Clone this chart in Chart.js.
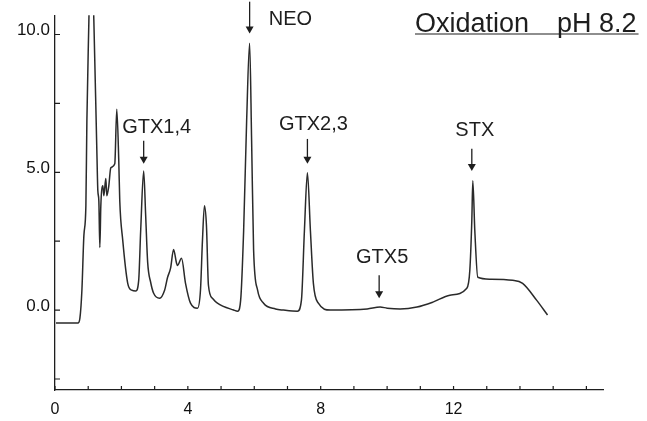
<!DOCTYPE html>
<html>
<head>
<meta charset="utf-8">
<script src="https://cdn.jsdelivr.net/npm/chart.js@4/dist/chart.umd.min.js"></script>
<style>
  html, body { margin: 0; padding: 0; background: #fff; }
  #wrap { width: 647px; height: 421px; position: relative; }
</style>
</head>
<body>
<div id="wrap"><canvas id="chrom"></canvas></div>
<script>
  // retention time (min) and detector signal of the trace
  const retTime = [
    0.03, 0.69, 0.75, 0.81, 0.87, 0.93, 0.96, 1.02, 1.08, 1.17,
    1.26, 1.29, 1.32, 1.35, 1.38, 1.44, 1.47, 1.53, 1.56, 1.62,
    1.68, 1.80, 1.86, 1.92, 1.95, 2.04, 2.19, 2.31, 2.43, 2.52,
    2.58, 2.67, 2.73, 2.79, 2.88, 2.97, 3.15, 3.30, 3.39, 3.48,
    3.57, 3.66, 3.69, 3.81, 3.93, 4.08, 4.29, 4.38, 4.44, 4.50,
    4.56, 4.62, 4.74, 4.89, 5.38, 5.50, 5.59, 5.68, 5.77, 5.86,
    5.92, 5.98, 6.10, 6.28, 6.64, 6.88, 7.30, 7.42, 7.51, 7.60,
    7.69, 7.78, 7.93, 8.29, 9.40, 9.79, 10.0, 10.39, 10.90, 11.38,
    11.89, 12.40, 12.49, 12.55, 12.58, 12.64, 12.73, 13.09, 13.78, 14.08,
    14.50, 14.83,
  ];
  const signal = [
    -0.47, -0.47, -0.29, 0.72, 2.71, 3.79, 6.86, 10.5, 14, 10.5,
    5.78, 4.33, 3.97, 2.27, 3.79, 4.51, 4.15, 4.77, 4.15, 4.51,
    5.16, 5.31, 7.29, 5.42, 3.97, 2.53, 0.97, 0.72, 0.69, 1.08,
    2.89, 5.05, 3.43, 1.73, 1.01, 0.61, 0.43, 0.72, 1.19, 1.52,
    2.20, 1.70, 1.62, 1.88, 0.97, 0.25, 0.07, 0.72, 2.53, 3.79,
    3.07, 0.90, 0.43, 0.25, 0.0, -0.04, 0.36, 2.89, 6.86, 9.68,
    6.14, 2.17, 0.72, 0.25, 0.04, 0.0, -0.04, 0.36, 2.89, 4.98,
    2.89, 0.97, 0.25, 0.0, 0.04, 0.11, 0.07, 0.04, 0.11, 0.29,
    0.54, 0.79, 1.44, 3.25, 4.69, 2.89, 1.19, 1.12, 1.08, 0.97,
    0.36, -0.18,
  ];

  // axis ticks
  const xTicks = [0, 1, 2, 3, 4, 5, 6, 7, 8, 9, 10, 11, 12, 13, 14, 15, 16];
  const xLabelled = [0, 4, 8, 12];
  const yTicks = [-2.5, 0, 2.5, 5, 7.5, 10];
  const yLabelled = [0, 5, 10];

  // peak names with their arrows
  const peakNames = ["GTX1,4", "NEO", "GTX2,3", "GTX5", "STX"];
  const arrowX = [2.67, 5.86, 7.60, 9.76, 12.55];
  const arrowFrom = [6.14, 11.19, 6.21, 1.26, 5.85];
  const arrowTo = [5.31, 10.04, 5.31, 0.43, 5.05];
  const nameX = [3.06, 7.09, 7.78, 9.85, 12.64];
  const nameY = [6.64, 10.54, 6.75, 1.91, 6.53];

  const FONT = "'Liberation Sans', Arial, Helvetica, sans-serif";
  const INK = "#1e1e1e";

  const peakMarks = {
    id: "peakMarks",
    afterDraw(chart) {
      const { ctx, chartArea: a } = chart;
      const x = chart.scales.x, y = chart.scales.y;
      ctx.save();
      // inward tick marks
      ctx.strokeStyle = INK;
      ctx.lineWidth = 1.2;
      ctx.beginPath();
      xTicks.forEach((v) => {
        const px = x.getPixelForValue(v);
        ctx.moveTo(px, a.bottom);
        ctx.lineTo(px, a.bottom - 4);
      });
      yTicks.forEach((v) => {
        const py = y.getPixelForValue(v);
        ctx.moveTo(a.left, py);
        ctx.lineTo(a.left + 5, py);
      });
      ctx.stroke();

      // arrows + names
      ctx.fillStyle = INK;
      ctx.font = "20px " + FONT;
      ctx.textAlign = "center";
      ctx.textBaseline = "middle";
      peakNames.forEach((name, i) => {
        const px = x.getPixelForValue(arrowX[i]);
        const y0 = y.getPixelForValue(arrowFrom[i]);
        const y1 = y.getPixelForValue(arrowTo[i]);
        ctx.lineWidth = 1.3;
        ctx.beginPath();
        ctx.moveTo(px, y0);
        ctx.lineTo(px, y1 - 5);
        ctx.stroke();
        ctx.beginPath();
        ctx.moveTo(px - 4, y1 - 7);
        ctx.lineTo(px + 4, y1 - 7);
        ctx.lineTo(px, y1);
        ctx.closePath();
        ctx.fill();
        ctx.fillText(name, x.getPixelForValue(nameX[i]), y.getPixelForValue(nameY[i]));
      });

      // title, underlined
      ctx.font = "27px " + FONT;
      ctx.textAlign = "left";
      ctx.textBaseline = "alphabetic";
      const tx = a.right - 188, ty = 32;
      ctx.fillText("Oxidation", tx, ty);
      const x2 = tx + 142;
      ctx.fillText("pH 8.2", x2, ty);
      const end = x2 + ctx.measureText("pH 8.2").width;
      ctx.lineWidth = 1.2;
      ctx.beginPath();
      ctx.moveTo(tx, ty + 2);
      ctx.lineTo(end + 2, ty + 2);
      ctx.stroke();
      ctx.restore();
    },
  };

  new Chart(document.getElementById("chrom"), {
    type: "line",
    data: {
      datasets: [
        {
          data: retTime.map((t, i) => ({ x: t, y: signal[i] })),
          borderColor: "#2a2a2a",
          borderWidth: 1.5,
          pointRadius: 0,
          cubicInterpolationMode: "monotone",
          fill: false,
        },
      ],
    },
    options: {
      responsive: true,
      maintainAspectRatio: false,
      animation: false,
      layout: { padding: { top: 13, right: 44, left: 0, bottom: 0 } },
      plugins: { legend: { display: false }, tooltip: { enabled: false } },
      scales: {
        x: {
          type: "linear",
          min: 0,
          max: 16.5,
          afterBuildTicks: (s) => (s.ticks = xTicks.map((v) => ({ value: v }))),
          afterFit: (s) => (s.height = 31),
          grid: { display: false, drawTicks: false },
          border: { display: true, color: INK, width: 1.3 },
          ticks: {
            autoSkip: false,
            maxRotation: 0,
            padding: 10,
            color: "#111",
            font: { family: FONT, size: 16 },
            callback: (v) => (xLabelled.includes(v) ? String(v) : ""),
          },
        },
        y: {
          min: -2.9,
          max: 10.7,
          afterBuildTicks: (s) => (s.ticks = yTicks.map((v) => ({ value: v }))),
          afterFit: (s) => (s.width = 55),
          grid: { display: false, drawTicks: false },
          border: { display: true, color: INK, width: 1.3 },
          ticks: {
            autoSkip: false,
            padding: 5,
            labelOffset: -4,
            color: "#111",
            font: { family: FONT, size: 17 },
            callback: (v) => (yLabelled.includes(v) ? v.toFixed(1) : ""),
          },
        },
      },
    },
    plugins: [peakMarks],
  });
</script>
</body>
</html>
